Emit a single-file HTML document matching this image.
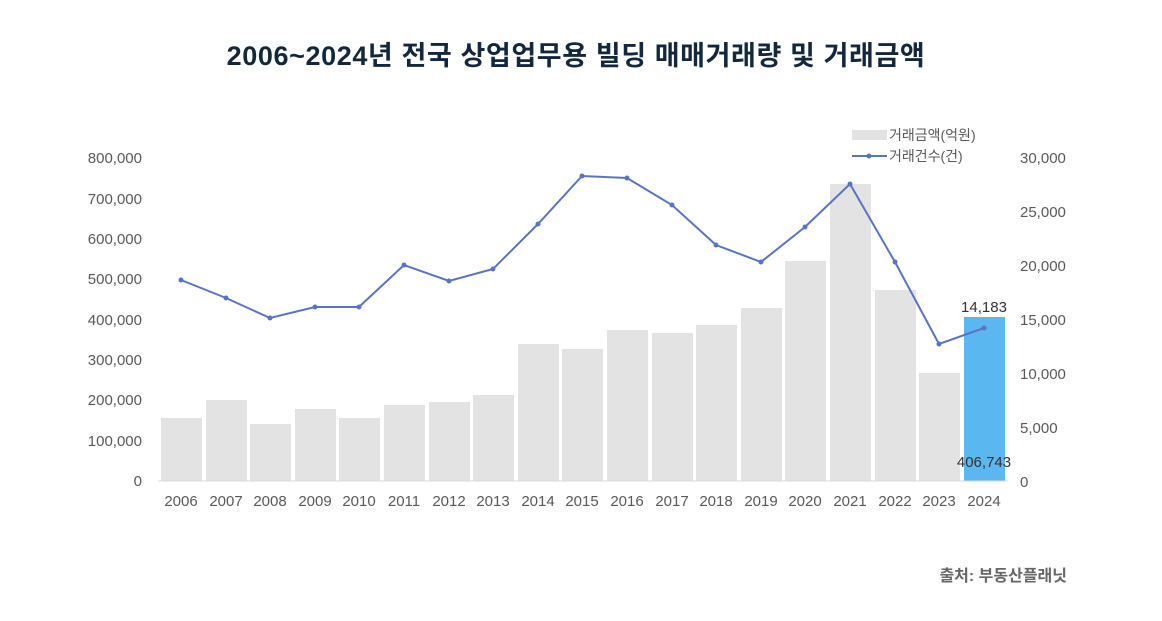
<!DOCTYPE html>
<html><head><meta charset="utf-8"><style>
body{margin:0;background:#fff;}
svg{display:block;font-family:"Liberation Sans","Noto Sans CJK KR",sans-serif;}
</style></head><body>
<svg width="1162" height="621" viewBox="0 0 1162 621">
<text x="576" y="65" text-anchor="middle" font-size="27" font-weight="bold" letter-spacing="0.6" fill="#13283d">2006~2024년 전국 상업업무용 빌딩 매매거래량 및 거래금액</text>
<g font-size="15" fill="#595959" text-anchor="end">
<text x="142" y="163">800,000</text><text x="142" y="204">700,000</text><text x="142" y="244">600,000</text><text x="142" y="284">500,000</text><text x="142" y="325">400,000</text><text x="142" y="365">300,000</text><text x="142" y="405">200,000</text><text x="142" y="446">100,000</text><text x="142" y="486">0</text>
</g>
<g font-size="15" fill="#595959" text-anchor="start">
<text x="1020" y="163">30,000</text><text x="1020" y="217">25,000</text><text x="1020" y="271">20,000</text><text x="1020" y="325">15,000</text><text x="1020" y="379">10,000</text><text x="1020" y="433">5,000</text><text x="1020" y="487">0</text>
</g>
<g fill="#e3e3e3">
<rect x="161" y="418" width="41" height="63"/>
<rect x="206" y="400" width="41" height="81"/>
<rect x="250" y="424" width="41" height="57"/>
<rect x="295" y="409" width="41" height="72"/>
<rect x="339" y="418" width="41" height="63"/>
<rect x="384" y="405" width="41" height="76"/>
<rect x="429" y="402" width="41" height="79"/>
<rect x="473" y="395" width="41" height="86"/>
<rect x="518" y="344" width="41" height="137"/>
<rect x="562" y="349" width="41" height="132"/>
<rect x="607" y="330" width="41" height="151"/>
<rect x="652" y="333" width="41" height="148"/>
<rect x="696" y="325" width="41" height="156"/>
<rect x="741" y="308" width="41" height="173"/>
<rect x="785" y="261" width="41" height="220"/>
<rect x="830" y="184" width="41" height="297"/>
<rect x="875" y="290" width="41" height="191"/>
<rect x="919" y="373" width="41" height="108"/>
</g>
<rect x="964" y="317" width="41" height="164" fill="#5bb7ef"/>
<line x1="158" y1="481" x2="1008" y2="481" stroke="#d9d9d9"/>
<polyline fill="none" stroke="#5b73c4" stroke-width="2" points="181,280 226,298 270,318 315,307 359,307 404,265 449,281 493,269 538,224 582,176 627,178 672,205 716,245 761,262 805,227 850,184 895,262 939,344 984,328"/>
<g fill="#5b73c4">
<circle cx="181" cy="280" r="2.5"/><circle cx="226" cy="298" r="2.5"/><circle cx="270" cy="318" r="2.5"/><circle cx="315" cy="307" r="2.5"/><circle cx="359" cy="307" r="2.5"/><circle cx="404" cy="265" r="2.5"/><circle cx="449" cy="281" r="2.5"/><circle cx="493" cy="269" r="2.5"/><circle cx="538" cy="224" r="2.5"/><circle cx="582" cy="176" r="2.5"/><circle cx="627" cy="178" r="2.5"/><circle cx="672" cy="205" r="2.5"/><circle cx="716" cy="245" r="2.5"/><circle cx="761" cy="262" r="2.5"/><circle cx="805" cy="227" r="2.5"/><circle cx="850" cy="184" r="2.5"/><circle cx="895" cy="262" r="2.5"/><circle cx="939" cy="344" r="2.5"/><circle cx="984" cy="328" r="2.5"/>
</g>
<text x="984" y="312" text-anchor="middle" font-size="15" fill="#333">14,183</text>
<text x="984" y="467" text-anchor="middle" font-size="15" fill="#333">406,743</text>
<g font-size="15" fill="#595959" text-anchor="middle">
<text x="181" y="506">2006</text><text x="226" y="506">2007</text><text x="270" y="506">2008</text><text x="315" y="506">2009</text><text x="359" y="506">2010</text><text x="404" y="506">2011</text><text x="449" y="506">2012</text><text x="493" y="506">2013</text><text x="538" y="506">2014</text><text x="582" y="506">2015</text><text x="627" y="506">2016</text><text x="672" y="506">2017</text><text x="716" y="506">2018</text><text x="761" y="506">2019</text><text x="805" y="506">2020</text><text x="850" y="506">2021</text><text x="895" y="506">2022</text><text x="939" y="506">2023</text><text x="984" y="506">2024</text>
</g>
<rect x="852" y="130" width="35" height="10" fill="#e3e3e3"/>
<text x="889" y="140" font-size="14" fill="#595959">거래금액(억원)</text>
<line x1="852" y1="156" x2="887" y2="156" stroke="#5b73c4" stroke-width="2"/>
<circle cx="869" cy="156" r="2.5" fill="#5b73c4"/>
<text x="889" y="161" font-size="14" fill="#595959">거래건수(건)</text>
<text x="1067" y="581" text-anchor="end" font-size="16" font-weight="bold" fill="#666">출처: 부동산플래닛</text>
</svg>
</body></html>
